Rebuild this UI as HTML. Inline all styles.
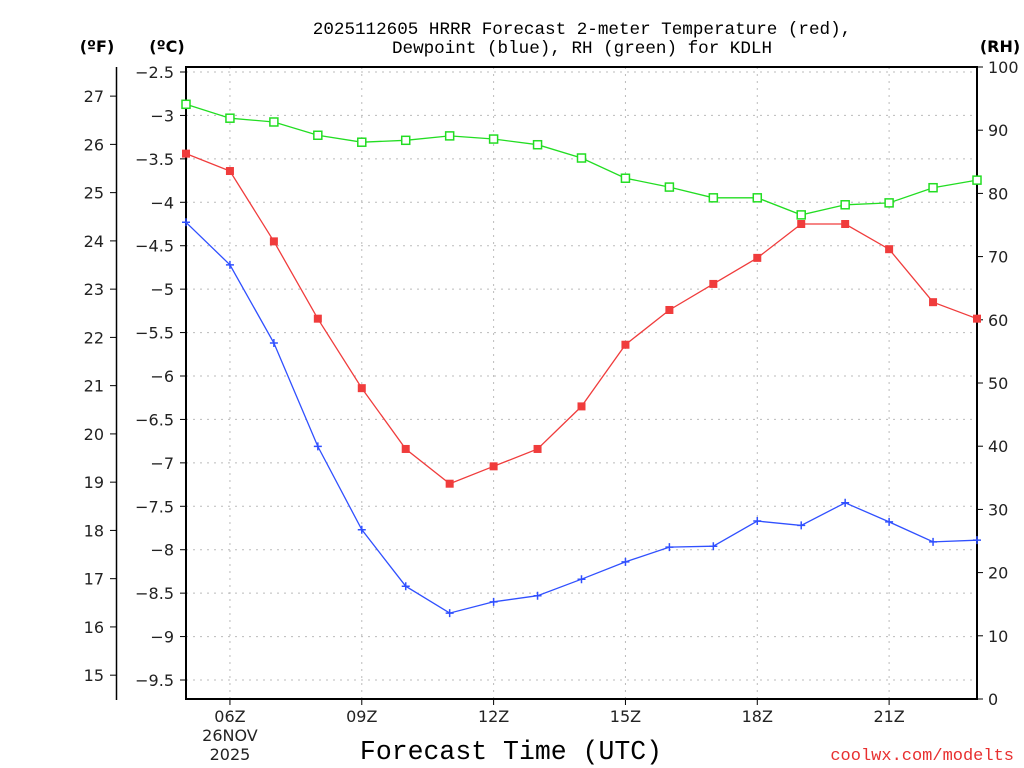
<!DOCTYPE html>
<html><head><meta charset="utf-8"><style>
html,body{margin:0;padding:0;background:#fff;}
svg{display:block;font-family:"DejaVu Sans","Liberation Sans",sans-serif;}
.mono{font-family:"Liberation Mono","DejaVu Sans Mono",monospace;}
</style></head><body>
<svg id="chart" width="1024" height="768" viewBox="0 0 1024 768">
<g id="grid"></g>
<g id="axes"></g>
<g id="series"></g>
<text class="mono" x="582" y="34" text-anchor="middle" font-size="17.6">2025112605 HRRR Forecast 2-meter Temperature (red),</text>
<text class="mono" x="582" y="53" text-anchor="middle" font-size="17.6">Dewpoint (blue), RH (green) for KDLH</text>
<text x="97" y="52" text-anchor="middle" font-size="16" font-weight="bold">(ºF)</text>
<text x="167" y="52" text-anchor="middle" font-size="16" font-weight="bold">(ºC)</text>
<text x="1000" y="52" text-anchor="middle" font-size="16" font-weight="bold">(RH)</text>
<text class="mono" x="511" y="759" text-anchor="middle" font-size="26.5">Forecast Time (UTC)</text>
<text class="mono" x="1014" y="760" text-anchor="end" font-size="17" fill="#e83030">coolwx.com/modelts</text>
</svg>
<script>
const hours = [5,6,7,8,9,10,11,12,13,14,15,16,17,18,19,20,21,22,23];
const tempC = [-3.44,-3.64,-4.45,-5.34,-6.14,-6.84,-7.24,-7.04,-6.84,-6.35,-5.64,-5.24,-4.94,-4.64,-4.25,-4.25,-4.54,-5.15,-5.34];
const dewC = [-4.23,-4.72,-5.62,-6.81,-7.77,-8.42,-8.73,-8.60,-8.53,-8.34,-8.14,-7.97,-7.96,-7.67,-7.72,-7.46,-7.68,-7.91,-7.89];
const rh = [94.1,91.9,91.3,89.2,88.1,88.4,89.1,88.6,87.7,85.6,82.4,81.0,79.3,79.3,76.6,78.2,78.5,80.9,82.1];
const cTicks = [-2.5,-3,-3.5,-4,-4.5,-5,-5.5,-6,-6.5,-7,-7.5,-8,-8.5,-9,-9.5];
const fTicks = [27,26,25,24,23,22,21,20,19,18,17,16,15];
const rhTicks = [100,90,80,70,60,50,40,30,20,10,0];
const xTickHours = [6,9,12,15,18,21];
const xTickLabels = ["06Z","09Z","12Z","15Z","18Z","21Z"];

const L=186,R=977,T=67,B=699;
const xs=h=>L+(h-5)*(R-L)/18;
const yc=c=>72+(-2.5-c)*(608/7);
const yf=f=>yc((f-32)*5/9);
const yr=v=>B-v*(B-T)/100;
const NS="http://www.w3.org/2000/svg";
function mk(parent,tag,attrs){const e=document.createElementNS(NS,tag);for(const k in attrs)e.setAttribute(k,attrs[k]);document.getElementById(parent).appendChild(e);return e;}

cTicks.forEach(c=>{const e=mk('grid','line',{x1:L,x2:R,y1:yc(c),y2:yc(c),stroke:'#bbb','stroke-dasharray':'2,5'});

});
xTickHours.forEach(h=>{const e=mk('grid','line',{x1:xs(h),x2:xs(h),y1:T,y2:B,stroke:'#bbb','stroke-dasharray':'2,5'});

});

const fr=mk('axes','rect',{x:L,y:T,width:R-L,height:B-T,fill:'none',stroke:'#000','stroke-width':2});


const fa=mk('axes','line',{x1:116.5,x2:116.5,y1:T,y2:B+1,stroke:'#000','stroke-width':1.5});



cTicks.forEach(c=>{const y=yc(c);
const t=mk('axes','line',{x1:L-6,x2:L,y1:y,y2:y,stroke:'#000'});


const l=mk('axes','text',{x:L-12,y:y+6,'text-anchor':'end','font-size':16,fill:'#222'});
l.textContent=(c<0?'\u2212':'')+Math.abs(c);

});
fTicks.forEach(f=>{const y=yf(f);
const t=mk('axes','line',{x1:110,x2:116,y1:y,y2:y,stroke:'#000'});


const l=mk('axes','text',{x:104,y:y+6,'text-anchor':'end','font-size':16,fill:'#222'});
l.textContent=f;

});
rhTicks.forEach(v=>{const y=yr(v);
const t=mk('axes','line',{x1:R,x2:R+6,y1:y,y2:y,stroke:'#000'});


const l=mk('axes','text',{x:988,y:y+6,'font-size':16,fill:'#222'});
l.textContent=v;

});
xTickHours.forEach((h,i)=>{const x=xs(h);
const t=mk('axes','line',{x1:x,x2:x,y1:B,y2:B+6,stroke:'#000'});


const l=mk('axes','text',{x:x,y:722,'text-anchor':'middle','font-size':16,fill:'#222'});
l.textContent=xTickLabels[i];

});
const d1=mk('axes','text',{x:xs(6),y:741,'text-anchor':'middle','font-size':16,fill:'#222'});d1.textContent='26NOV';


const d2=mk('axes','text',{x:xs(6),y:760,'text-anchor':'middle','font-size':16,fill:'#222'});d2.textContent='2025';



function line(vals,yfn,color,name){
const pts=vals.map((v,i)=>xs(hours[i]).toFixed(1)+','+yfn(v).toFixed(1)).join(' ');
const p=mk('series','polyline',{points:pts,fill:'none',stroke:color,'stroke-width':1.3});

}
line(rh,yr,'#22dd22','rh-line');
line(tempC,yc,'#f03c3c','temperature-line');
line(dewC,yc,'#3050ff','dewpoint-line');
rh.forEach((v,i)=>{const m=mk('series','rect',{x:xs(hours[i])-4,y:yr(v)-4,width:8,height:8,fill:'#fff',stroke:'#22dd22','stroke-width':1.5});

});
tempC.forEach((v,i)=>{const m=mk('series','rect',{x:xs(hours[i])-4,y:yc(v)-4,width:8,height:8,fill:'#f03c3c'});

});
dewC.forEach((v,i)=>{const x=xs(hours[i]),y=yc(v);
const m=mk('series','path',{d:`M${x-4},${y}H${x+4}M${x},${y-4}V${y+4}`,stroke:'#3050ff','stroke-width':1.5});

});
</script>
</body></html>
